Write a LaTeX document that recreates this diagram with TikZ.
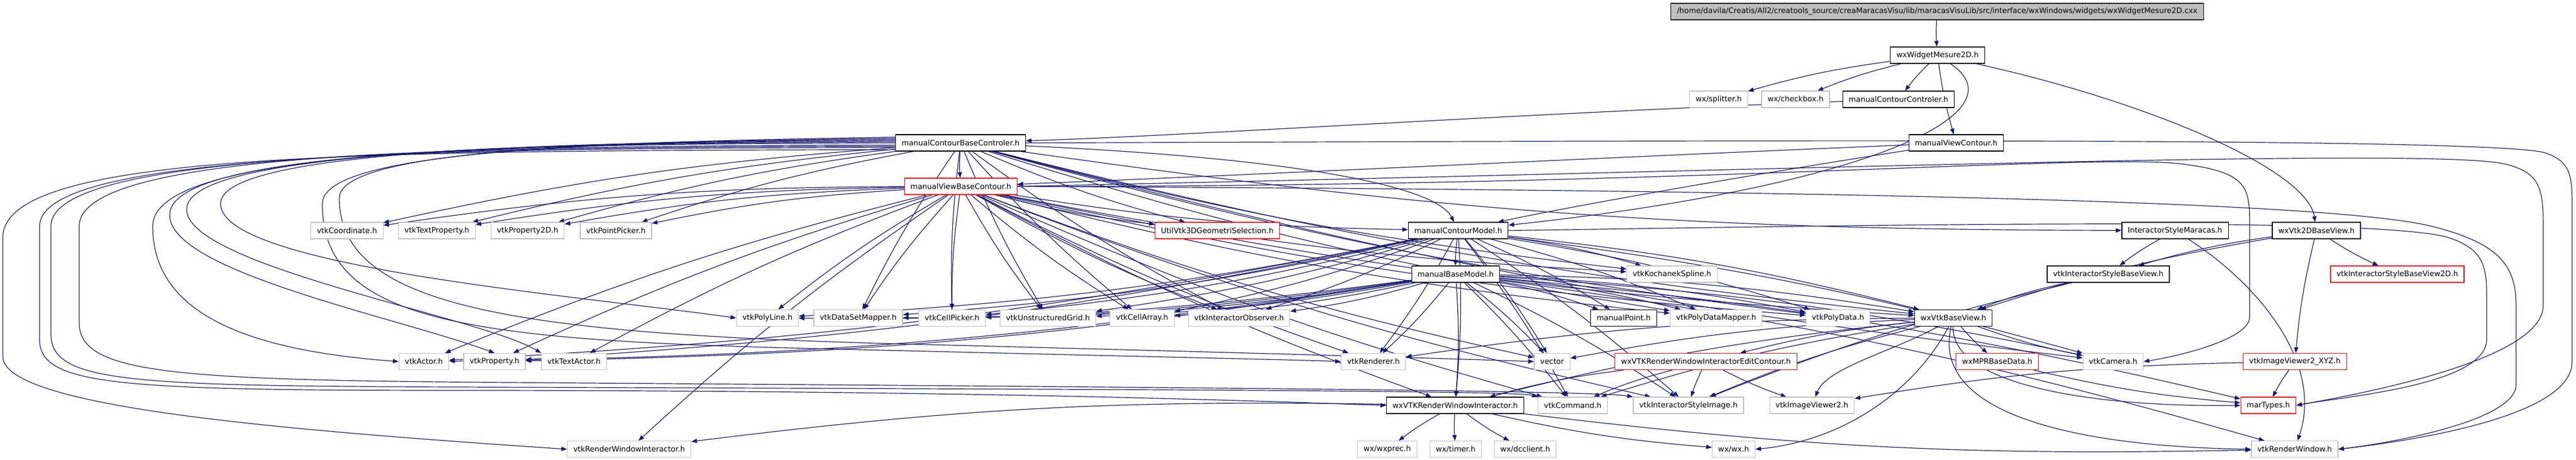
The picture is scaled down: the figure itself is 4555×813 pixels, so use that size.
\documentclass[tikz,border=0pt]{standalone}
\usepackage{fontspec}
\setmainfont{DejaVu Sans}
\usetikzlibrary{arrows.meta}
\definecolor{edgeblue}{RGB}{25,25,112}
\definecolor{extgray}{RGB}{191,191,191}
\pgfdeclarelayer{edges}
\pgfsetlayers{edges,main}
\tikzset{
  box/.style={rectangle, fill=white, minimum height=2.9pt, inner xsep=1.05pt, inner ysep=0pt,
    font=\fontsize{1.33}{1.5}\selectfont, line width=0.12pt},
  doc/.style={box, draw=black},
  ext/.style={box, draw=extgray},
  trunc/.style={box, draw=red},
  rootbox/.style={box, draw=black, fill=extgray},
  dep/.style={draw=edgeblue, line width=0.12pt, -{Triangle[length=1pt,width=0.75pt]}},
}

\begin{document}
\begin{tikzpicture}[x=0.1pt,y=-0.1pt]
\useasboundingbox (0,0) rectangle (4555,813);

% rows from top to bottom
\node[rootbox] (root) at (3425.5,20.5) {/home/davila/Creatis/All2/creatools\_source/creaMaracasVisu/lib/maracasVisuLib/src/interface/wxWindows/widgets/wxWidgetMesure2D.cxx};
\node[doc] (wm) at (3426,97.5) {wxWidgetMesure2D.h};
\node[ext] (split) at (3039,175.5) {wx/splitter.h};
\node[ext] (check) at (3175,175.5) {wx/checkbox.h};
\node[doc] (mcc) at (3357,175.5) {manualContourControler.h};
\node[doc] (mcbc) at (1698.5,252.5) {manualContourBaseControler.h};
\node[doc] (mvc) at (3459,252.5) {manualViewContour.h};
\node[trunc] (mvbc) at (1699,329.5) {manualViewBaseContour.h};
\node[ext] (coord) at (613.5,407.5) {vtkCoordinate.h};
\node[ext] (tprop) at (772.5,407.5) {vtkTextProperty.h};
\node[ext] (prop2d) at (933,407.5) {vtkProperty2D.h};
\node[ext] (ppick) at (1089,407.5) {vtkPointPicker.h};
\node[trunc] (util) at (2152.5,407.5) {UtilVtk3DGeometriSelection.h};
\node[doc] (mcm) at (2578.5,407.5) {manualContourModel.h};
\node[doc] (ism) at (3846,407.5) {InteractorStyleMaracas.h};
\node[doc] (w2d) at (4096,407.5) {wxVtk2DBaseView.h};
\node[doc] (mbm) at (2574,484.5) {manualBaseModel.h};
\node[ext] (spline) at (2956.5,484.5) {vtkKochanekSpline.h};
\node[doc] (isbv) at (3728,484.5) {vtkInteractorStyleBaseView.h};
\node[trunc] (isbv2d) at (4239,484.5) {vtkInteractorStyleBaseView2D.h};
\node[ext] (pline) at (1357,562) {vtkPolyLine.h};
\node[ext] (dsmap) at (1517.5,562) {vtkDataSetMapper.h};
\node[ext] (cpick) at (1683.5,562) {vtkCellPicker.h};
\node[ext] (ugrid) at (1853,562) {vtkUnstructuredGrid.h};
\node[ext] (carr) at (2019.5,562) {vtkCellArray.h};
\node[ext] (iobs) at (2191,562) {vtkInteractorObserver.h};
\node[doc] (mpt) at (2871,562) {manualPoint.h};
\node[ext] (pdmap) at (3034.5,562) {vtkPolyDataMapper.h};
\node[ext] (pdata) at (3250,562) {vtkPolyData.h};
\node[doc] (wxbv) at (3454,562) {wxVtkBaseView.h};
\node[ext] (actor) at (749.5,639) {vtkActor.h};
\node[ext] (prop) at (874.5,639) {vtkProperty.h};
\node[ext] (tactor) at (1015,639) {vtkTextActor.h};
\node[ext] (ren) at (2428.5,639) {vtkRenderer.h};
\node[ext] (vec) at (2744.5,639) {vector};
\node[trunc] (wxrwiec) at (3016.5,639) {wxVTKRenderWindowInteractorEditContour.h};
\node[trunc] (mpr) at (3531.5,639) {wxMPRBaseData.h};
\node[ext] (cam) at (3736.5,639) {vtkCamera.h};
\node[trunc] (xyz) at (4058,639) {vtkImageViewer2\_XYZ.h};
\node[doc] (wxrwi) at (2573,716.5) {wxVTKRenderWindowInteractor.h};
\node[ext] (cmd) at (2781,716.5) {vtkCommand.h};
\node[ext] (isimg) at (2985.5,716.5) {vtkInteractorStyleImage.h};
\node[ext] (iv2) at (3204,716.5) {vtkImageViewer2.h};
\node[trunc] (mart) at (4011,716.5) {marTypes.h};
\node[ext] (rwi) at (1112.5,794) {vtkRenderWindowInteractor.h};
\node[ext] (wxprec) at (2453,794) {wx/wxprec.h};
\node[ext] (timer) at (2574,794) {wx/timer.h};
\node[ext] (dcc) at (2697,794) {wx/dcclient.h};
\node[ext] (wxwx) at (3065.5,794) {wx/wx.h};
\node[ext] (rw) at (4057.5,794) {vtkRenderWindow.h};

\begin{pgfonlayer}{edges}
% short fans
\foreach \s/\t in {root/wm, wm/split, wm/check, wm/mcc, wm/mvc, mcbc/mvbc, mcbc/util,
    mvbc/util, mvbc/mcm, mcm/mbm, ism/isbv, w2d/isbv, w2d/wxbv, w2d/isbv2d, w2d/xyz,
    isbv/wxbv, isbv/isimg, wxbv/mpr, wxbv/cam, wxbv/vec, wxbv/wxrwiec, wxbv/ren,
    wxbv/wxrwi, wxbv/cmd, wxbv/isimg, wxrwiec/wxrwi, wxrwiec/cmd, wxrwiec/isimg,
    wxrwiec/iv2, xyz/mart, xyz/iv2, mpr/mart, wxrwi/wxprec, wxrwi/timer, wxrwi/dcc,
    wxrwi/wxwx, wxrwi/rwi, wxrwi/rw}
  \draw[dep] (\s) to[bend right=4] (\t);
\foreach \t in {coord, tprop, prop2d, ppick, ism, wxbv, pdata, pdmap, spline, cam,
    dsmap, cpick, ugrid, carr, iobs}
  \draw[dep] (mcbc) to[bend right=4] (\t);
\foreach \t in {coord, tprop, prop2d, ppick, actor, prop, tactor, rwi, pline, dsmap,
    cpick, ugrid, carr, iobs, spline, pdmap, pdata, wxbv, ren, vec, wxrwi, cmd, isimg}
  \draw[dep] (mvbc) to[bend right=4] (\t);
\foreach \t in {spline, mpt, pdmap, pdata, wxbv, cpick, ugrid, carr, iobs, pline,
    dsmap, ren, vec, wxrwi, cmd, isimg, actor, prop, cam}
  \draw[dep] (mcm) to[bend left=4] (\t);
\foreach \t in {pline, dsmap, cpick, ugrid, carr, iobs, mpt, pdmap, pdata, wxbv, ren,
    vec, wxrwi, cmd, isimg, actor, prop, mart, cam, rw}
  \draw[dep] (mbm) to[bend left=4] (\t);

% long curves
\draw[dep] (mcc) .. controls (2700,200) and (2100,240) .. (mcbc);
\draw[dep] (mvc) .. controls (2800,280) and (2200,310) .. (mvbc);
\draw[dep] (mvc) .. controls (3150,300) and (2800,360) .. (mcm);
\draw[dep] (wm) .. controls (3580,200) and (3300,330) .. (mcm);
\draw[dep] (wm) .. controls (3800,180) and (4080,300) .. (w2d);
\draw[dep] (mcbc) .. controls (2300,280) and (2540,330) .. (mcm);
\draw[dep] (ism) .. controls (3990,500) and (4110,640) .. (rw);
\draw[dep] (wxbv) .. controls (3450,680) and (3700,720) .. (mart.west);
\draw[dep] (wxbv) .. controls (3410,740) and (3700,790) .. (rw.west);
\draw[dep] (wxbv) .. controls (3350,620) and (3230,650) .. (iv2);
\draw[dep] (wxbv) .. controls (3380,700) and (3250,780) .. (wxwx.east);

% round the left side
\draw[dep] (mcbc.186) .. controls (600,266) and (5,272) .. (5,420) -- (5,630)
  .. controls (5,720) and (500,760) .. (rwi.west);
\draw[dep] (mcbc.184) .. controls (700,262) and (70,275) .. (70,400) -- (70,600)
  .. controls (70,680) and (200,690) .. (800,690) .. controls (1800,690) and (2300,712) .. (wxrwi.west);
\draw[dep] (mcbc.183) .. controls (750,260) and (90,272) .. (90,400) -- (90,590)
  .. controls (90,675) and (220,682) .. (800,684) .. controls (1900,688) and (2680,690) .. (cmd.north west);
\draw[dep] (mcbc.182) .. controls (800,258) and (140,268) .. (140,400) -- (140,570)
  .. controls (140,660) and (300,672) .. (900,676) .. controls (2000,684) and (2820,690) .. (isimg.north west);
\draw[dep] (mcbc.180) .. controls (900,255) and (270,262) .. (270,400)
  .. controls (270,560) and (450,620) .. (actor.west);
\draw[dep] (mcbc.179) .. controls (950,254) and (300,262) .. (300,380)
  .. controls (300,480) and (700,560) .. (prop.north);
\draw[dep] (mcbc.178) .. controls (1000,253) and (330,262) .. (330,370)
  .. controls (330,470) and (850,560) .. (tactor.north west);
\draw[dep] (mcbc.177) .. controls (1050,252) and (390,260) .. (390,360)
  .. controls (390,470) and (1000,520) .. (pline.west);
\draw[dep] (mcbc.176) .. controls (1100,251) and (570,262) .. (570,360)
  .. controls (570,560) and (800,600) .. (1400,615) .. controls (2000,630) and (2300,636) .. (ren.west);
\draw[dep] (mcbc.175) .. controls (1150,250) and (600,258) .. (600,350)
  .. controls (600,540) and (900,590) .. (1600,608) .. controls (2300,626) and (2600,635) .. (vec.west);

% round the right side
\draw[dep] (mcbc.east) .. controls (2800,250) and (4400,240) .. (4500,270)
  .. controls (4545,285) and (4548,310) .. (4548,360) -- (4548,640)
  .. controls (4548,730) and (4300,775) .. (rw.east);
\draw[dep] (mvbc.east) .. controls (3000,335) and (4100,350) .. (4300,400)
  .. controls (4420,430) and (4449,470) .. (4449,540) -- (4449,680)
  .. controls (4449,740) and (4250,780) .. (rw.east);
\draw[dep] (mvbc.east) .. controls (3200,300) and (4300,260) .. (4430,290)
  .. controls (4490,305) and (4497,330) .. (4497,400) -- (4497,540)
  .. controls (4497,640) and (4150,700) .. (mart.east);
\draw[dep] (mcm.east) .. controls (3200,400) and (4200,380) .. (4330,420)
  .. controls (4390,440) and (4397,470) .. (4397,520) -- (4397,600)
  .. controls (4397,680) and (4150,700) .. (mart.east);
\draw[dep] (mvbc.east) .. controls (3000,330) and (3700,270) .. (3860,290)
  .. controls (3975,305) and (3978,330) .. (3978,400) -- (3978,560)
  .. controls (3978,600) and (3850,630) .. (cam.east);
\end{pgfonlayer}
\end{tikzpicture}
\end{document}
